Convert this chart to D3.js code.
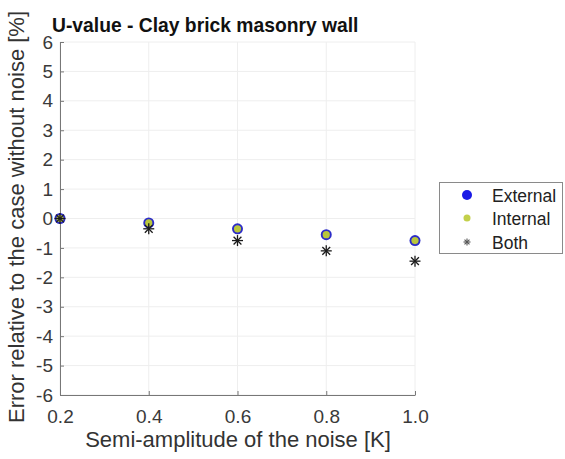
<!DOCTYPE html>
<html><head><meta charset="utf-8">
<script src="https://cdn.jsdelivr.net/npm/d3@7"></script>
<style>body{margin:0;background:#fff}svg{display:block}text{font-family:"Liberation Sans",Arial,sans-serif}</style>
</head><body><svg id="c" width="565" height="459"></svg>
<script>
const xValues = [0.2, 0.4, 0.6, 0.8, 1.0];
const externalErr = [0, -0.15, -0.35, -0.55, -0.75];
const internalErr = [0, -0.15, -0.35, -0.55, -0.75];
const bothErr = [0, -0.35, -0.75, -1.1, -1.45];
const xTicks = [0.2, 0.4, 0.6, 0.8, 1.0];
const yTicks = [-6,-5,-4,-3,-2,-1,0,1,2,3,4,5,6];
const seriesNames = ["External", "Internal", "Both"];

const svg = d3.select("#c");
const x = d3.scaleLinear().domain([0.2, 1.0]).range([60, 415]);
const y = d3.scaleLinear().domain([-6, 6]).range([395, 42]);

// grid
svg.append("g").selectAll("line").data(yTicks).join("line")
  .attr("x1", 60).attr("x2", 415).attr("y1", d => y(d)).attr("y2", d => y(d))
  .attr("stroke", "#eeeeee").attr("stroke-width", 1);
svg.append("g").selectAll("line").data(xTicks).join("line")
  .attr("y1", 42).attr("y2", 395).attr("x1", d => x(d)).attr("x2", d => x(d))
  .attr("stroke", "#eeeeee").attr("stroke-width", 1);

const xAxis = svg.append("g").attr("transform", "translate(0,395)")
  .call(d3.axisBottom(x).tickValues(xTicks).tickFormat(d3.format(".1f")).tickSizeInner(-4).tickSizeOuter(0).tickPadding(15));
const yAxis = svg.append("g").attr("transform", "translate(60,0)")
  .call(d3.axisLeft(y).tickValues(yTicks).tickFormat(d => d).tickSizeInner(-4).tickSizeOuter(0).tickPadding(7));
[xAxis, yAxis].forEach(g => {
  g.select(".domain").attr("stroke", "#777");
  g.selectAll(".tick line").attr("stroke", "#777");
  g.selectAll(".tick text").attr("fill", "#3a3a3a").style("font-size", "19px").style("font-family", "Liberation Sans, Arial, sans-serif");
});

function asterisk(g, cx, cy, r, col, w) {
  [0, 45, 90, 135].forEach(a => {
    const rad = a * Math.PI / 180;
    g.append("line").attr("x1", cx - r*Math.cos(rad)).attr("y1", cy - r*Math.sin(rad))
      .attr("x2", cx + r*Math.cos(rad)).attr("y2", cy + r*Math.sin(rad))
      .attr("stroke", col).attr("stroke-width", w);
  });
}
const gm = svg.append("g");
xValues.forEach((xv, i) => {
  gm.append("circle").attr("cx", x(xv)).attr("cy", y(externalErr[i])).attr("r", 5.5).attr("fill", "#2c2cc8");
});
xValues.forEach((xv, i) => {
  gm.append("circle").attr("cx", x(xv)).attr("cy", y(internalErr[i])).attr("r", 3.6).attr("fill", "#b9c63c");
});
xValues.forEach((xv, i) => {
  asterisk(gm, x(xv), y(bothErr[i]), 5.5, "#1a1a1a", 1.3);
});

// title
svg.append("text").attr("x", 52).attr("y", 32).text("U-value - Clay brick masonry wall")
  .style("font-size", "19.3px").style("font-weight", "bold").attr("fill", "#111");

// axis labels
svg.append("text").attr("x", 238).attr("y", 447).attr("text-anchor", "middle")
  .text("Semi-amplitude of the noise [K]").style("font-size", "22px").attr("fill", "#333");
svg.append("text").attr("transform", "translate(24,217) rotate(-90)").attr("text-anchor", "middle")
  .text("Error relative to the case without noise [%]").style("font-size", "22px").attr("fill", "#333");

// legend
const lg = svg.append("g");
lg.append("rect").attr("x", 439.5).attr("y", 182.5).attr("width", 123).attr("height", 71)
  .attr("fill", "#fff").attr("stroke", "#8a8a8a").attr("stroke-width", 1);
const ly = [195, 218, 242];
lg.append("circle").attr("cx", 467).attr("cy", ly[0]).attr("r", 5).attr("fill", "#1a1ae6");
lg.append("circle").attr("cx", 467).attr("cy", ly[1]).attr("r", 3.5).attr("fill", "#c3d04a");
asterisk(lg, 467, ly[2], 3.5, "#555", 1.1);
seriesNames.forEach((n, i) => {
  lg.append("text").attr("x", 492).attr("y", ly[i] + 7).text(n).style("font-size", "17.5px").attr("fill", "#222");
});
</script></body></html>
